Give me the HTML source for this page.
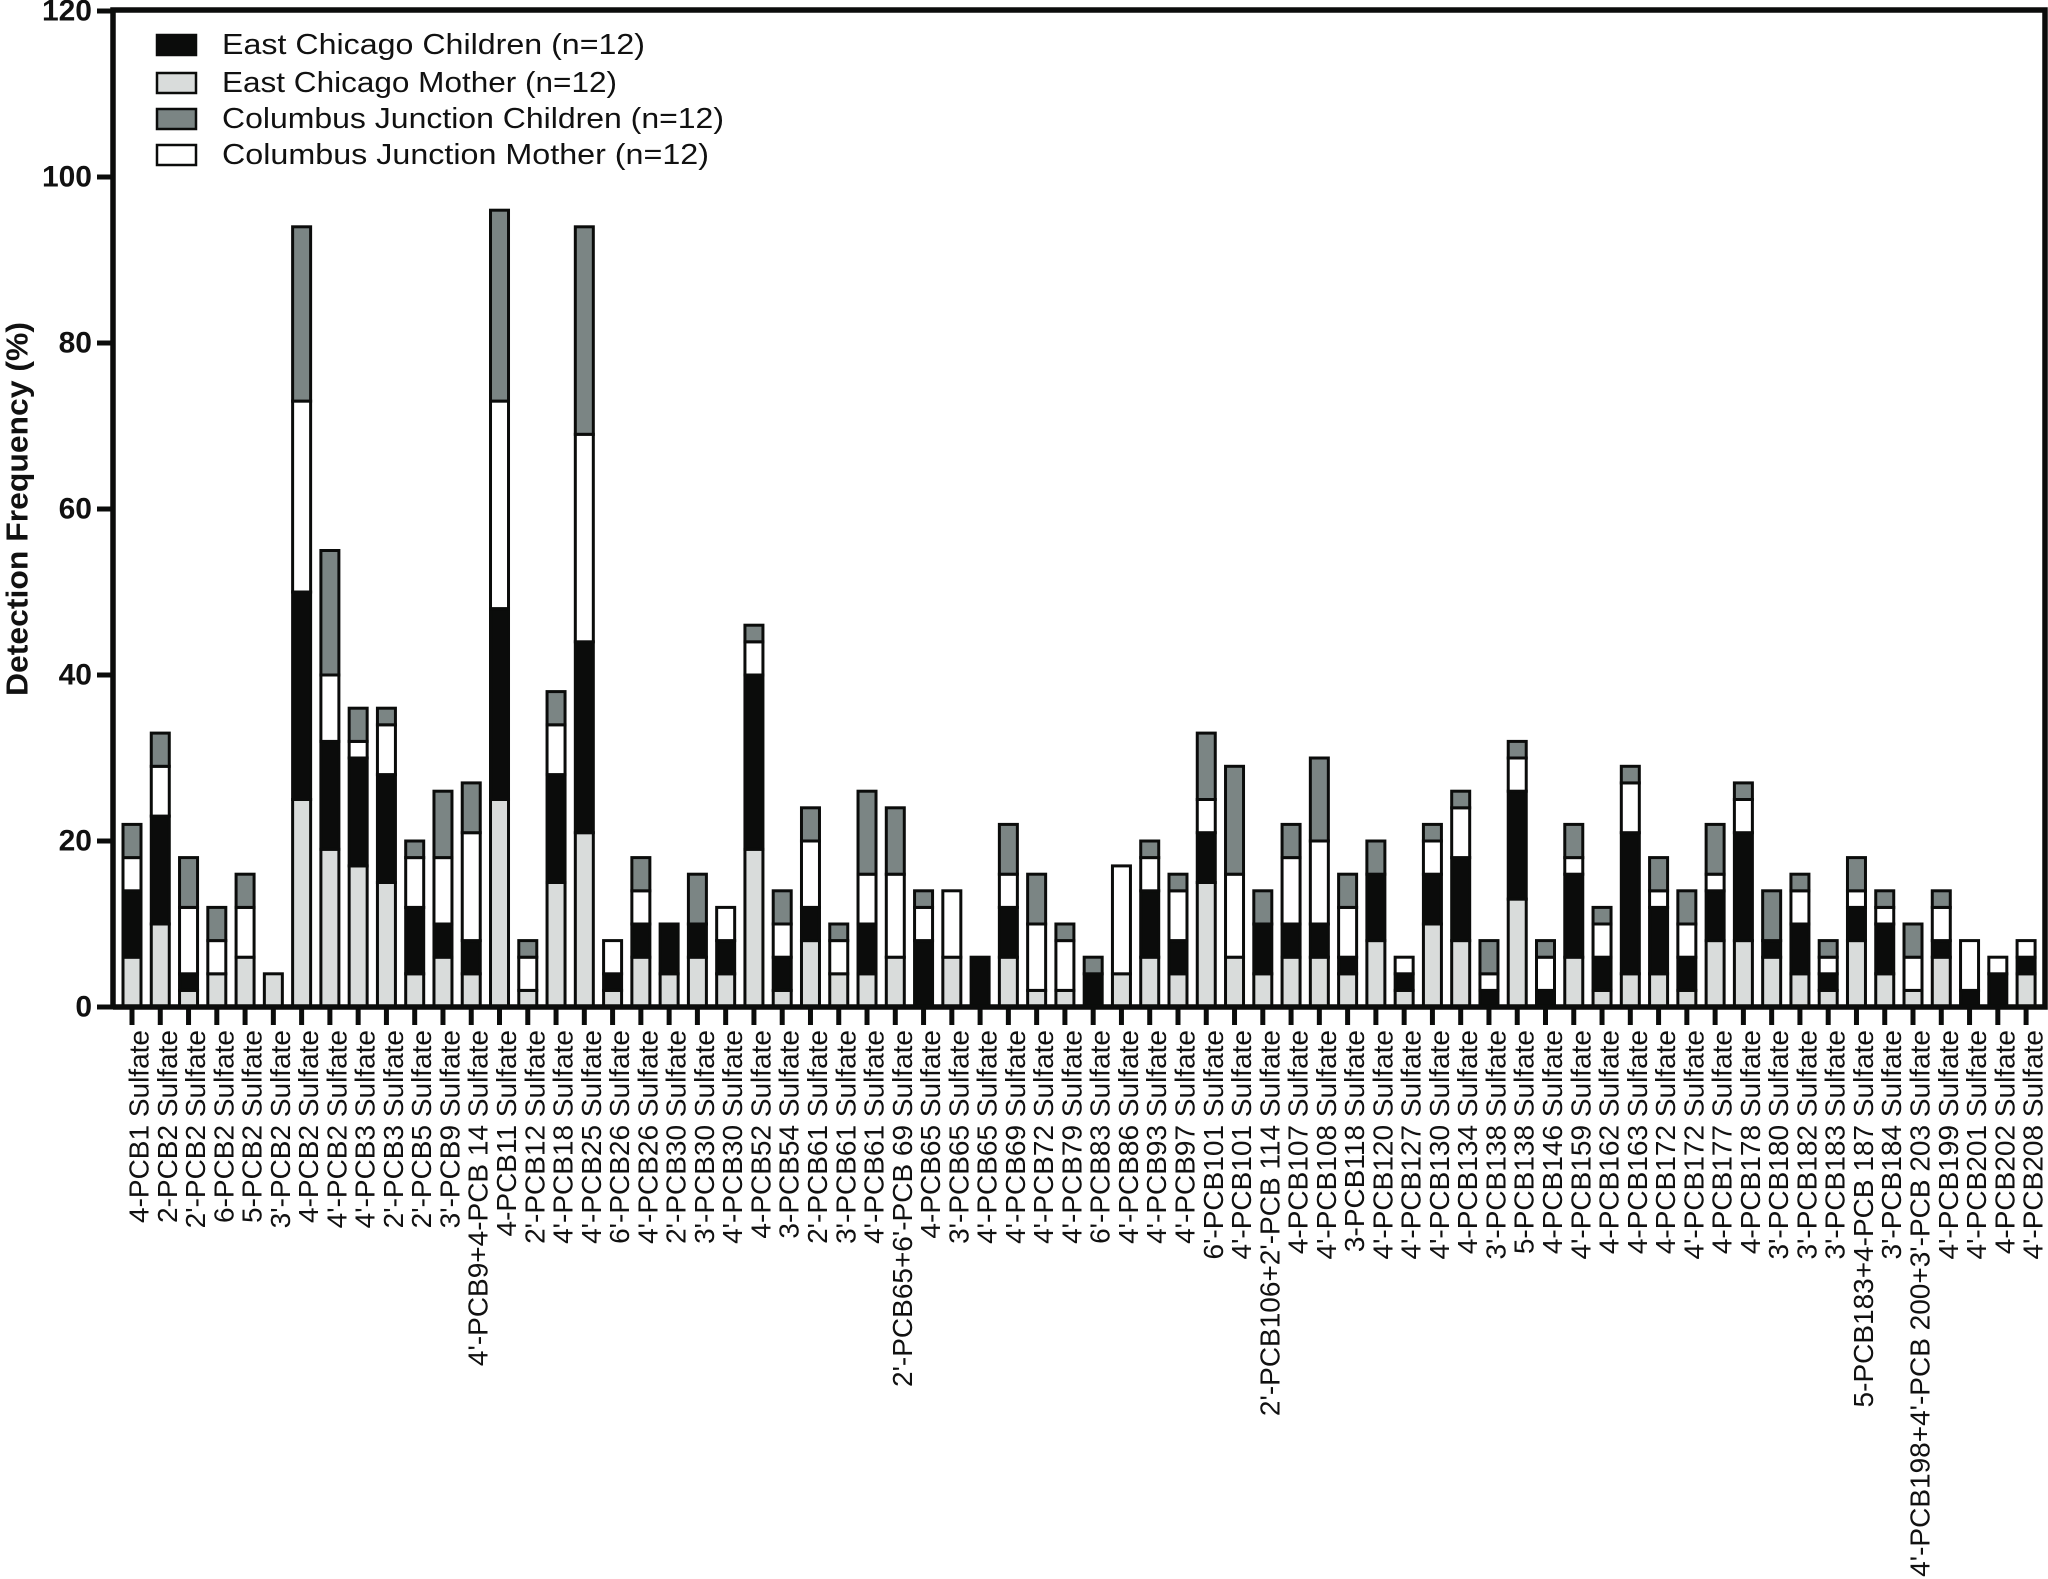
<!DOCTYPE html>
<html><head><meta charset="utf-8"><style>
html,body{margin:0;padding:0;background:#fff;}
svg{display:block;font-family:"Liberation Sans",Arial,sans-serif;}
</style></head><body>
<svg id="chart" width="2048" height="1579" viewBox="0 0 2048 1579" xmlns="http://www.w3.org/2000/svg">
<g id="bars"></g>
<g id="axes"></g>
<g id="xlabels"></g>
<g id="legend"></g>
</svg>
<script>
const categories = ["4-PCB1 Sulfate","2-PCB2 Sulfate","2'-PCB2 Sulfate","6-PCB2 Sulfate","5-PCB2 Sulfate","3'-PCB2 Sulfate","4-PCB2 Sulfate","4'-PCB2 Sulfate","4'-PCB3 Sulfate","2'-PCB3 Sulfate","2'-PCB5 Sulfate","3'-PCB9 Sulfate","4'-PCB9+4-PCB 14 Sulfate","4-PCB11 Sulfate","2'-PCB12 Sulfate","4'-PCB18 Sulfate","4'-PCB25 Sulfate","6'-PCB26 Sulfate","4'-PCB26 Sulfate","2'-PCB30 Sulfate","3'-PCB30 Sulfate","4'-PCB30 Sulfate","4-PCB52 Sulfate","3-PCB54 Sulfate","2'-PCB61 Sulfate","3'-PCB61 Sulfate","4'-PCB61 Sulfate","2'-PCB65+6'-PCB 69 Sulfate","4-PCB65 Sulfate","3'-PCB65 Sulfate","4'-PCB65 Sulfate","4'-PCB69 Sulfate","4'-PCB72 Sulfate","4'-PCB79 Sulfate","6'-PCB83 Sulfate","4'-PCB86 Sulfate","4'-PCB93 Sulfate","4'-PCB97 Sulfate","6'-PCB101 Sulfate","4'-PCB101 Sulfate","2'-PCB106+2'-PCB 114 Sulfate","4-PCB107 Sulfate","4'-PCB108 Sulfate","3-PCB118 Sulfate","4'-PCB120 Sulfate","4'-PCB127 Sulfate","4'-PCB130 Sulfate","4-PCB134 Sulfate","3'-PCB138 Sulfate","5-PCB138 Sulfate","4-PCB146 Sulfate","4'-PCB159 Sulfate","4-PCB162 Sulfate","4-PCB163 Sulfate","4-PCB172 Sulfate","4'-PCB172 Sulfate","4-PCB177 Sulfate","4-PCB178 Sulfate","3'-PCB180 Sulfate","3'-PCB182 Sulfate","3'-PCB183 Sulfate","5-PCB183+4-PCB 187 Sulfate","3'-PCB184 Sulfate","4'-PCB198+4'-PCB 200+3'-PCB 203 Sulfate","4'-PCB199 Sulfate","4'-PCB201 Sulfate","4-PCB202 Sulfate","4'-PCB208 Sulfate"];
const ecMother   = [6,10,2,4,6,4,25,19,17,15,4,6,4,25,2,15,21,2,6,4,6,4,19,2,8,4,4,6,0,6,0,6,2,2,0,4,6,4,15,6,4,6,6,4,8,2,10,8,0,13,0,6,2,4,4,2,8,8,6,4,2,8,4,2,6,0,0,4];
const ecChildren = [8,13,2,0,0,0,25,13,13,13,8,4,4,23,0,13,23,2,4,6,4,4,21,4,4,0,6,0,8,0,6,6,0,0,4,0,8,4,6,0,6,4,4,2,8,2,6,10,2,13,2,10,4,17,8,4,6,13,2,6,2,4,6,0,2,2,4,2];
const cjMother   = [4,6,8,4,6,0,23,8,2,6,6,8,13,25,4,6,25,4,4,0,0,4,4,4,8,4,6,10,4,8,0,4,8,6,0,13,4,6,4,10,0,8,10,6,0,2,4,6,2,4,4,2,4,6,2,4,2,4,0,4,2,2,2,4,4,6,2,2];
const cjChildren = [4,4,6,4,4,0,21,15,4,2,2,8,6,23,2,4,25,0,4,0,6,0,2,4,4,2,10,8,2,0,0,6,6,2,2,0,2,2,8,13,4,4,10,4,4,0,2,2,4,2,2,4,2,2,4,4,6,2,6,2,2,4,2,4,2,0,0,0];
const yTicks = [0,20,40,60,80,100,120];
const seriesNames = ["East Chicago Children (n=12)","East Chicago Mother (n=12)","Columbus Junction Children (n=12)","Columbus Junction Mother (n=12)"];

const NS = "http://www.w3.org/2000/svg";
const AX_X = 113, Y0 = 1007, UNIT = 8.3, X0 = 132, STEP = 28.27, BW = 18;
const yScale = v => Y0 - v * UNIT;
const xScale = i => X0 + i * STEP;
function mk(tag, attrs, parent) {
  const e = document.createElementNS(NS, tag);
  for (const k in attrs) e.setAttribute(k, attrs[k]);
  parent.appendChild(e);
  return e;
}
const bars = document.getElementById('bars');
const axes = document.getElementById('axes');
const xl = document.getElementById('xlabels');
const lg = document.getElementById('legend');

const stack = [[ecMother,'#d9dcdb','ec-mother'],[ecChildren,'#0b0c0b','ec-children'],[cjMother,'#ffffff','cj-mother'],[cjChildren,'#7b8584','cj-children']];
categories.forEach((c, i) => {
  let base = 0;
  const cx = xScale(i);
  stack.forEach(([arr, col, nm]) => {
    const v = arr[i];
    if (v > 0) {
      const r = mk('rect', {x: cx - BW/2, y: yScale(base + v), width: BW, height: v * UNIT, fill: col, stroke: '#0b0c0b', 'stroke-width': 3}, bars);
      
      
    }
    base += v;
  });
  const t = mk('line', {x1: cx, x2: cx, y1: Y0, y2: 1025, stroke: '#0b0c0b', 'stroke-width': 5}, axes);
  
  
  const tx = mk('text', {x: 0, y: 0, 'font-size': 28, 'text-anchor': 'end', 'dominant-baseline': 'central', transform: `translate(${cx + 7},1030) rotate(-90)`, fill: '#111'}, xl);
  tx.textContent = c;
  
  
});

const fr = mk('path', {d: `M${AX_X},${Y0} V10 H2045 V${Y0} H${AX_X}`, fill: 'none', stroke: '#0b0c0b', 'stroke-width': 5.5}, axes);



yTicks.forEach(v => {
  const y = yScale(v);
  const l = mk('line', {x1: 97, x2: AX_X, y1: y, y2: y, stroke: '#0b0c0b', 'stroke-width': 5}, axes);
  
  
  const t = mk('text', {x: 92, y: y, 'font-size': 30, 'font-weight': 'bold', 'text-anchor': 'end', 'dominant-baseline': 'central', fill: '#111'}, axes);
  t.textContent = v;
  
  
});

const yt = mk('text', {x: 0, y: 0, 'font-size': 31, 'font-weight': 'bold', 'text-anchor': 'middle', 'dominant-baseline': 'central', transform: 'translate(17,509) rotate(-90)', textLength: 374, lengthAdjust: 'spacingAndGlyphs', fill: '#111'}, axes);
yt.textContent = 'Detection Frequency (%)';



const legCols = ['#0b0c0b','#d9dcdb','#7b8584','#ffffff'];
const legY = [45, 83, 119, 155];
const legW = [423, 395, 502, 487];
seriesNames.forEach((n, i) => {
  const g = mk('g', {}, lg);
  
  
  mk('rect', {x: 157, y: legY[i] - 10, width: 39, height: 20, fill: legCols[i], stroke: '#0b0c0b', 'stroke-width': 2.5}, g);
  const t = mk('text', {x: 222, y: legY[i], 'font-size': 29, 'dominant-baseline': 'central', textLength: legW[i], lengthAdjust: 'spacingAndGlyphs', fill: '#111'}, g);
  t.textContent = n;
});
</script>
</body></html>
